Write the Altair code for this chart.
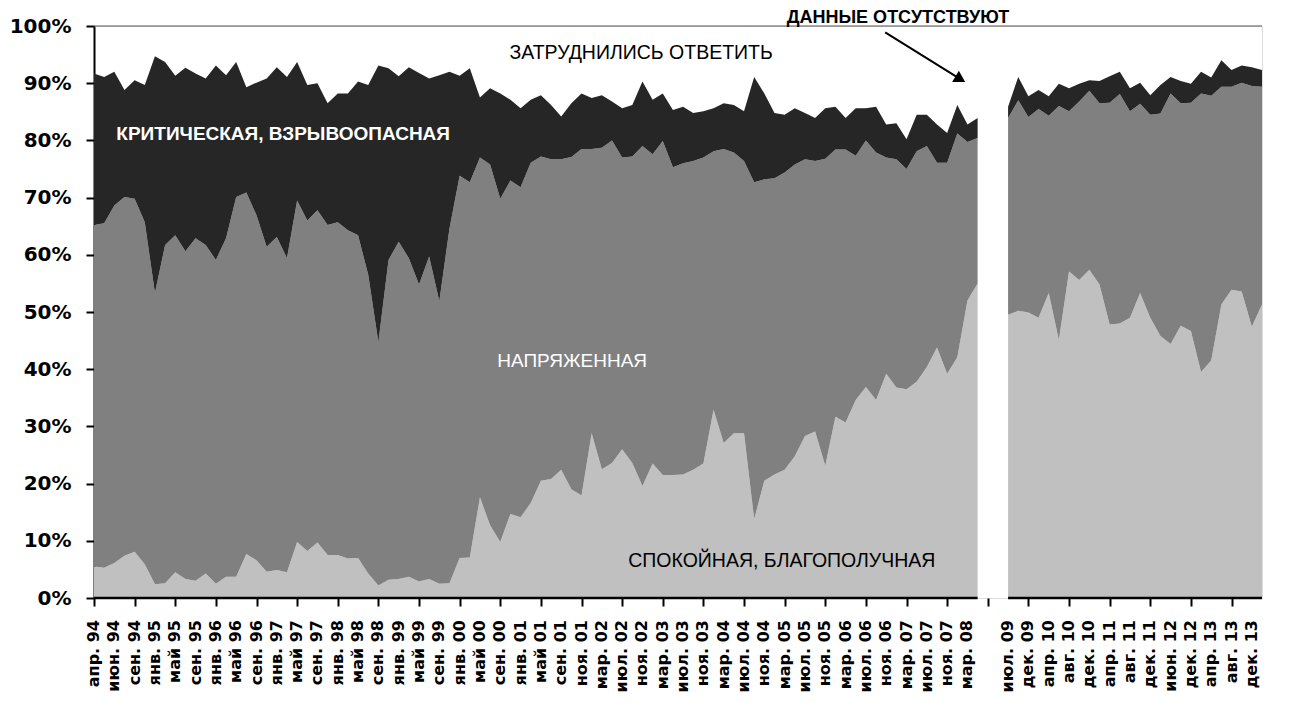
import altair as alt
import pandas as pd

# ---- category labels (every second survey is labelled) ----
left_labels = ["апр. 94", "июн. 94", "сен. 94", "янв. 95", "май 95", "сен. 95", "янв. 96", "май 96",
               "сен. 96", "янв. 97", "май 97", "сен. 97", "янв. 98", "май 98", "сен. 98", "янв. 99",
               "май 99", "сен. 99", "янв. 00", "май 00", "сен. 00", "янв. 01", "май 01", "сен. 01",
               "ноя. 01", "мар. 02", "июл. 02", "ноя. 02", "мар. 03", "июл. 03", "ноя. 03", "мар. 04",
               "июл. 04", "ноя. 04", "мар. 05", "июл. 05", "ноя. 05", "мар. 06", "июл. 06", "ноя. 06",
               "мар. 07", "июл. 07", "ноя. 07", "мар. 08"]
right_labels = ["июл. 09", "дек. 09", "апр. 10", "авг. 10", "дек. 10", "апр. 11", "авг. 11", "дек. 11",
                "июн. 12", "дек. 12", "апр. 13", "авг. 13", "дек. 13"]

# ---- cumulative shares, % ----
# 1994-2008 block
calm_L = [5.5, 5.3, 6.1, 7.4, 8.1, 5.9, 2.4, 2.6, 4.5, 3.3, 3.0, 4.3, 2.5, 3.7, 3.7, 7.7, 6.6, 4.6, 4.9, 4.5,
          9.8, 8.2, 9.7, 7.5, 7.5, 6.9, 7.0, 4.3, 2.2, 3.2, 3.3, 3.7, 2.9, 3.3, 2.5, 2.6, 7.0, 7.1, 17.6, 12.7,
          9.8, 14.7, 14.1, 16.6, 20.5, 20.8, 22.4, 19.0, 17.9, 28.8, 22.5, 23.6, 26.0, 23.6, 19.6, 23.5,
          21.5, 21.5, 21.6, 22.4, 23.5, 32.9, 27.1, 28.8, 28.8, 13.8, 20.5, 21.6, 22.4, 24.8, 28.3, 29.1,
          23.1, 31.7, 30.7, 34.6, 36.9, 34.6, 39.2, 36.8, 36.5, 37.8, 40.4, 43.8, 39.2, 42.1, 52.0, 55.0]
tense_L = [65.2, 65.5, 68.6, 70.1, 69.8, 65.7, 53.3, 61.7, 63.4, 60.6, 62.9, 61.7, 59.1, 62.9, 70.1, 70.9,
           66.9, 61.4, 63.1, 59.4, 69.5, 66.0, 67.8, 65.2, 65.7, 64.3, 63.4, 56.5, 44.7, 59.1, 62.3, 59.4,
           54.8, 59.7, 51.9, 64.6, 73.8, 72.7, 77.0, 75.8,
           69.8, 73.0, 71.8, 76.1, 77.2, 76.7, 76.7, 77.1, 78.5, 78.5, 78.7, 80.0, 77.0, 77.2, 79.0, 77.6,
           79.9, 75.3, 76.0, 76.4, 77.0, 78.1, 78.5, 77.9, 76.4, 72.7, 73.2, 73.4, 74.4, 75.8, 76.7, 76.4,
           76.8, 78.4, 78.4, 77.3, 80.0, 77.9, 77.0, 76.7, 75.0, 78.1, 79.0, 76.1, 76.1, 81.2, 79.7, 80.4]
crit_L = [91.7, 91.1, 92.0, 88.8, 90.5, 89.7, 94.7, 93.7, 91.3, 92.7, 91.7, 90.8, 93.1, 91.4, 93.7, 89.3,
          90.1, 90.8, 92.8, 91.1, 93.7, 89.7, 90.0, 86.5, 88.2, 88.2, 90.3, 89.7, 93.1, 92.6, 91.2, 92.8,
          91.8, 90.8, 91.4, 92.0, 91.3, 92.6, 87.5, 89.1,
          88.2, 87.1, 85.6, 87.1, 87.9, 86.2, 84.2, 86.5, 88.2, 87.4, 87.9, 86.8, 85.6, 86.2, 90.3, 87.1,
          88.2, 85.3, 85.9, 84.8, 85.1, 85.6, 86.5, 86.2, 85.1, 91.1, 88.2, 84.8, 84.5, 85.6, 84.8, 83.9,
          85.6, 85.9, 83.9, 85.6, 85.6, 85.9, 82.8, 83.0, 80.2, 84.5, 84.5, 82.8, 81.3, 86.2, 82.8, 83.9]
# 2009-2013 block
calm_R = [49.5, 50.2, 49.9, 49.0, 53.3, 45.1, 57.1, 55.6, 57.4, 54.8, 47.8, 48.0, 49.0, 53.3, 49.0, 45.8,
          44.4, 47.6, 46.7, 39.5, 41.5, 51.3, 53.9, 53.6, 47.4, 51.3]
tense_R = [83.9, 87.0, 84.1, 85.5, 84.3, 86.0, 85.1, 86.8, 88.7, 86.5, 86.6, 88.1, 85.1, 86.4, 84.5, 84.7,
           88.2, 86.5, 86.6, 88.2, 87.8, 89.4, 89.4, 90.1, 89.5, 89.4]
crit_R = [85.9, 91.1, 87.7, 88.8, 87.7, 89.9, 89.1, 89.9, 90.5, 90.4, 91.2, 92.0, 89.1, 90.1, 87.9, 89.7,
          91.1, 90.4, 89.9, 92.0, 91.0, 94.0, 92.3, 93.1, 92.8, 92.3]

GAP = 2
n_left = len(calm_L)
right_start = n_left + GAP
n_total = right_start + len(calm_R)

series_names = ["спокойная", "напряженная", "критическая"]
series_colors = ["#c0c0c0", "#808080", "#262626"]

rows = []
for seg, (cl, tn, cr, off) in enumerate([(calm_L, tense_L, crit_L, 0), (calm_R, tense_R, crit_R, right_start)]):
    for k in range(len(cl)):
        idx = off + k
        rows.append({"idx": idx, "seg": seg, "series": series_names[0], "lo": 0.0, "hi": cl[k]})
        rows.append({"idx": idx, "seg": seg, "series": series_names[1], "lo": cl[k], "hi": tn[k]})
        rows.append({"idx": idx, "seg": seg, "series": series_names[2], "lo": tn[k], "hi": cr[k]})
df = pd.DataFrame(rows)

# category labels placed on every second category
lab_rows = [{"idx": 2 * k, "t": lab} for k, lab in enumerate(left_labels)]
lab_rows += [{"idx": right_start + 2 * k, "t": lab} for k, lab in enumerate(right_labels)]
lab_df = pd.DataFrame(lab_rows)

W, H = 1168, 572
xscale = alt.Scale(domain=[0, n_total - 1], nice=False, zero=False)
yscale = alt.Scale(domain=[0, 100], nice=False)

areas = alt.Chart(df).mark_area(interpolate="linear").encode(
    x=alt.X("idx:Q", scale=xscale,
            axis=alt.Axis(values=list(range(n_total)), labels=False,
                          tickColor="black", tickWidth=2, tickSize=8,
                          domain=False, grid=False, title=None)),
    y=alt.Y("hi:Q", scale=yscale,
            axis=alt.Axis(values=list(range(0, 101, 10)), labelExpr="datum.value + '%'",
                          labelFont="DejaVu Sans", labelFontWeight="bold", labelFontSize=20,
                          labelColor="black", tickColor="black", tickWidth=2, tickSize=8,
                          domainColor="black", domainWidth=2, labelPadding=15, grid=False,
                          title=None)),
    y2="lo:Q",
    color=alt.Color("series:N", scale=alt.Scale(domain=series_names, range=series_colors), legend=None),
    detail="seg:N",
)

x_labels = alt.Chart(lab_df).mark_text(angle=270, align="right", baseline="middle", font="DejaVu Sans",
                                       fontWeight="bold", fontSize=16, color="black", clip=False,
                                       dx=3).encode(
    x=alt.X("idx:Q", scale=xscale), y=alt.value(H + 25), text="t:N")

# broken x axis line
axis_df = pd.DataFrame({"x0": [0, right_start], "x1": [n_left - 1, n_total - 1]})
axis_line = alt.Chart(axis_df).mark_rule(color="black", strokeWidth=2.5).encode(
    x=alt.X("x0:Q", scale=xscale), x2="x1:Q", y=alt.datum(0, scale=yscale))

top_df = pd.DataFrame({"x0": [0], "x1": [n_total - 1]})
top_line = alt.Chart(top_df).mark_rule(color="#555555", strokeWidth=1).encode(
    x=alt.X("x0:Q", scale=xscale), x2="x1:Q", y=alt.datum(100, scale=yscale))


def label(text, xi, yp, color, weight, size, align="left"):
    d = pd.DataFrame({"t": [text], "x": [xi], "y": [yp]})
    return alt.Chart(d).mark_text(font="Liberation Sans", fontSize=size, fontWeight=weight, color=color,
                                  align=align, baseline="middle", clip=False).encode(
        x=alt.X("x:Q", scale=xscale), y=alt.Y("y:Q", scale=yscale), text="t:N")


t1 = label("ЗАТРУДНИЛИСЬ ОТВЕТИТЬ", 40.9, 95.3, "black", "normal", 19.5)
t2 = label("КРИТИЧЕСКАЯ, ВЗРЫВООПАСНАЯ", 2.2, 81.2, "white", "bold", 19)
t3 = label("НАПРЯЖЕННАЯ", 39.7, 41.4, "white", "normal", 19)
t4 = label("СПОКОЙНАЯ, БЛАГОПОЛУЧНАЯ", 52.6, 6.4, "black", "normal", 19.5)
t5 = label("ДАННЫЕ  ОТСУТСТВУЮТ", 68.2, 101.4, "black", "bold", 18)

arrow_df = pd.DataFrame({"x0": [77.9], "y0": [98.9], "x1": [85.3], "y1": [90.7]})
arrow_line = alt.Chart(arrow_df).mark_rule(color="black", strokeWidth=2, clip=False).encode(
    x=alt.X("x0:Q", scale=xscale), y=alt.Y("y0:Q", scale=yscale), x2="x1:Q", y2="y1:Q")
arrow_head = alt.Chart(arrow_df).mark_point(shape="triangle-right", filled=True, color="black",
                                             size=170, angle=31, opacity=1, clip=False).encode(
    x=alt.X("x1:Q", scale=xscale), y=alt.Y("y1:Q", scale=yscale))

chart = alt.layer(areas, top_line, axis_line, x_labels, t1, t2, t3, t4, t5, arrow_line, arrow_head).properties(
    width=W, height=H,
    padding={"left": 86, "top": 18, "right": 19, "bottom": 96},
    autosize=alt.AutoSizeParams(type="none"),
).configure_view(stroke=None).configure(background="white")

chart.save("out.html", embed_options={"renderer": "svg", "actions": False})
